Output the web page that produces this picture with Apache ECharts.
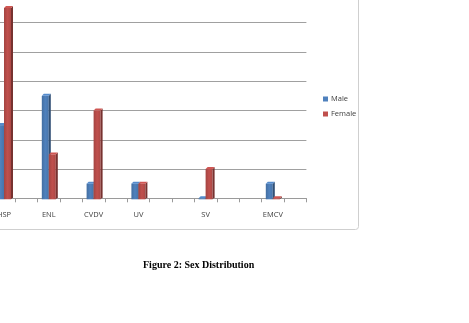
<!DOCTYPE html>
<html>
<head>
<meta charset="utf-8">
<script src="https://cdn.jsdelivr.net/npm/echarts@6/dist/echarts.min.js"></script>
<style>
  html, body { margin: 0; padding: 0; background: #fff; overflow: hidden; width: 469px; height: 323px; }
  /* chart is cropped on the left/top like the scanned figure */
  #chart { position: absolute; left: -40px; top: -40px; width: 509px; height: 363px; }
</style>
</head>
<body>
<div id="chart"></div>
<script>
// empty slots are blank rows in the source sheet
const categories = ["HSP", "", "ENL", "", "CVDV", "", "UV", "", "", "SV", "", "", "EMCV", ""];
const male = [5, null, 7, null, 1, null, 1, null, null, 0, null, null, 1, null];
const female = [13, null, 3, null, 6, null, 1, null, null, 2, null, null, 0, null];
const yTicks = [0, 2, 4, 6, 8, 10, 12, 14];

const chart = echarts.init(document.getElementById("chart"));

const BAR_W = 7;
const DEPTH = 2;

const shade = (hex, k) => {
  const n = parseInt(hex.slice(1), 16);
  const r = Math.min(255, Math.round(((n >> 16) & 255) * k));
  const g = Math.min(255, Math.round(((n >> 8) & 255) * k));
  const b = Math.min(255, Math.round((n & 255) * k));
  return `rgb(${r},${g},${b})`;
};

const make3dBar = (offset, color) => (params, api) => {
  const v = api.value(1);
  if (v === null || isNaN(v)) return;
  const base = api.coord([api.value(0), 0]);
  const top = api.coord([api.value(0), v]);
  const x0 = base[0] + offset;
  const x1 = x0 + BAR_W;
  const yb = base[1] + 1;
  const yt = Math.min(top[1], yb - 1);
  return {
    type: "group",
    children: [
      {
        type: "rect",
        shape: { x: x0, y: yt, width: BAR_W, height: yb - yt },
        style: {
          fill: new echarts.graphic.LinearGradient(0, 0, 1, 0, [
            { offset: 0, color: shade(color, 0.85) },
            { offset: 0.5, color: color },
            { offset: 1, color: shade(color, 0.9) },
          ]),
        },
      },
      {
        type: "polygon",
        shape: { points: [[x1, yt], [x1 + DEPTH, yt - DEPTH], [x1 + DEPTH, yb - DEPTH], [x1, yb]] },
        style: { fill: shade(color, 0.62) },
      },
      {
        type: "polygon",
        shape: { points: [[x0, yt], [x0 + DEPTH, yt - DEPTH], [x1 + DEPTH, yt - DEPTH], [x1, yt]] },
        style: { fill: shade(color, 1.08) },
      },
    ],
  };
};

const toData = (arr) => arr.map((v, i) => [i, v]);

chart.setOption({
  animation: false,
  backgroundColor: "#fff",
  textStyle: { fontFamily: "Open Sans, sans-serif" },
  grid: {
    left: 32.8,
    width: 313.6,
    top: 33.4,
    height: 204.9,
    containLabel: false,
  },
  legend: {
    orient: "vertical",
    left: 358,
    top: 130,
    itemWidth: 5,
    itemHeight: 5,
    itemGap: 7,
    icon: "rect",
    textStyle: { fontSize: 7.5, color: "#404040", padding: [0, 0, 0, -2] },
    data: ["Male", "Female"],
  },
  xAxis: {
    type: "category",
    data: categories,
    boundaryGap: true,
    axisLine: { lineStyle: { color: "#9a9a9a", width: 1 } },
    axisTick: { show: true, length: 4, lineStyle: { color: "#9a9a9a" } },
    axisLabel: { color: "#404040", fontSize: 7.5, margin: 13, interval: 0 },
  },
  yAxis: {
    type: "value",
    min: yTicks[0],
    max: yTicks[yTicks.length - 1],
    interval: 2,
    axisLine: { show: false },
    axisTick: { show: false },
    axisLabel: { show: false },
    splitLine: { lineStyle: { color: "#a0a0a0", width: 1 } },
  },
  graphic: [
    {
      type: "rect",
      shape: { x: 30, y: 30, width: 368.5, height: 239.5, r: 3 },
      style: { fill: "none", stroke: "#cfcfcf", lineWidth: 1 },
      z: -1,
    },
    {
      type: "text",
      left: 183,
      top: 300,
      style: {
        text: "Figure 2: Sex Distribution",
        font: "bold 10px 'Liberation Serif', serif",
        fill: "#000",
      },
    },
  ],
  series: [
    {
      name: "Male",
      type: "custom",
      itemStyle: { color: "#4F81BD" },
      renderItem: make3dBar(-BAR_W, "#4F81BD"),
      encode: { x: 0, y: 1 },
      data: toData(male),
    },
    {
      name: "Female",
      type: "custom",
      itemStyle: { color: "#C0504D" },
      renderItem: make3dBar(0, "#C0504D"),
      encode: { x: 0, y: 1 },
      data: toData(female),
    },
  ],
});
</script>
</body>
</html>
